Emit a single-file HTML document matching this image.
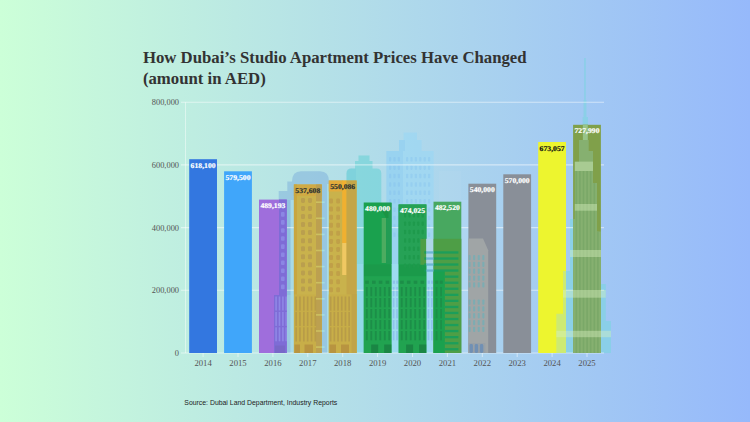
<!DOCTYPE html>
<html><head><meta charset="utf-8"><title>Dubai studio prices</title>
<style>
html,body{margin:0;padding:0}
body{width:750px;height:422px;overflow:hidden;background:linear-gradient(90deg,#ccffd8 0%,#96b9fb 100%);font-family:"Liberation Serif",serif}
svg{position:absolute;left:0;top:0}
.vl{text-rendering:geometricPrecision}
.t{font:bold 16.75px "Liberation Serif",serif;fill:#333}
.yl{font:8.4px "Liberation Serif",serif;fill:#555}
.xl{font:8.7px "Liberation Serif",serif;fill:#555}
.vl{font:bold 12px "Liberation Serif",serif}
.src{font:6.6px "Liberation Sans",sans-serif;fill:#222}
</style></head><body>
<svg width="750" height="422" viewBox="0 0 750 422">
<text x="142.9" y="63.3" class="t">How Dubai’s Studio Apartment Prices Have Changed</text>
<text x="142.9" y="83.6" class="t">(amount in AED)</text>
<line x1="185.5" x2="185.5" y1="102.2" y2="353.0" stroke="#fff" stroke-opacity=".45"/>
<g id="back">
<!-- Building A: domed, behind 2016/2017 -->
<path d="M274 353V295h4.7V191h8.6V181.5h4.7q0-10.3 9-10.3h19q9 0 9 10.3V353z" fill="#6a9ed8" fill-opacity=".38"/>
<rect x="290.5" y="200" width="3.6" height="153" fill="#b8f0f0" fill-opacity=".45"/>
<rect x="286.8" y="200" width="3.7" height="95" fill="#5a8ed8" fill-opacity=".15"/>
<rect x="327" y="184" width="2" height="169" fill="#b8f0f0" fill-opacity=".5"/>
<!-- teal tower between 2018 and 2019 -->
<path d="M346.5 353V173.5q0-5 5-5h3.5v-7.5h3.5v-5.5h11v5.5h3v7.5h3.8q5 0 5 5V264h-17.6V353z" fill="#5ccfd2" fill-opacity=".5"/>
<path d="M346.5 264V173.5q0-5 5-5h4.5v95.5z" fill="#5ab8d8" fill-opacity=".16"/>
<!-- tall blue tower behind 2020 -->
<path d="M386.4 353V151h12.6v-11h4.6v-7.6h13.4v7.6h4.6v11h12V353z" fill="#92d8f8" fill-opacity=".45"/>
<rect x="386.4" y="151" width="16.6" height="113" fill="#5aa8f0" fill-opacity=".13"/>
<rect x="399" y="140" width="6" height="11" fill="#5aa8f0" fill-opacity=".13"/>
<rect x="439" y="171" width="22" height="32" fill="#fff" fill-opacity=".04"/>
<!-- low wide building 2019-2021 -->
<rect x="357" y="264" width="76.5" height="89" fill="#9adcf0" fill-opacity=".55"/>
<!-- pale building right of 2021 -->
<rect x="461" y="200" width="7.5" height="153" fill="#b4d8f6" fill-opacity=".5"/>
<!-- Burj Khalifa -->
<path d="M584.2 58H585.8V100H586.4V117H588V140H588.7V151H593V183H597V231.5H601V284H605.8V321H611V353H556.3V313.8H563V271H570V219H574.8V161.6H579V140H582.7V117H583.6V100H584.2Z" fill="#74d8dc" fill-opacity=".5"/>
<rect x="406.0" y="157.0" width="2.2" height="4.5" rx=".8" fill="#5a9ee8" fill-opacity=".15"/><rect x="410.4" y="157.0" width="2.2" height="4.5" rx=".8" fill="#5a9ee8" fill-opacity=".15"/><rect x="414.8" y="157.0" width="2.2" height="4.5" rx=".8" fill="#5a9ee8" fill-opacity=".15"/><rect x="419.2" y="157.0" width="2.2" height="4.5" rx=".8" fill="#5a9ee8" fill-opacity=".15"/><rect x="423.6" y="157.0" width="2.2" height="4.5" rx=".8" fill="#5a9ee8" fill-opacity=".15"/><rect x="428.0" y="157.0" width="2.2" height="4.5" rx=".8" fill="#5a9ee8" fill-opacity=".15"/><rect x="389.0" y="157.0" width="2.2" height="4.5" rx=".8" fill="#5a9ee8" fill-opacity=".14"/><rect x="393.4" y="157.0" width="2.2" height="4.5" rx=".8" fill="#5a9ee8" fill-opacity=".14"/><rect x="397.8" y="157.0" width="2.2" height="4.5" rx=".8" fill="#5a9ee8" fill-opacity=".14"/><rect x="406.0" y="165.4" width="2.2" height="4.5" rx=".8" fill="#5a9ee8" fill-opacity=".15"/><rect x="410.4" y="165.4" width="2.2" height="4.5" rx=".8" fill="#5a9ee8" fill-opacity=".15"/><rect x="414.8" y="165.4" width="2.2" height="4.5" rx=".8" fill="#5a9ee8" fill-opacity=".15"/><rect x="419.2" y="165.4" width="2.2" height="4.5" rx=".8" fill="#5a9ee8" fill-opacity=".15"/><rect x="423.6" y="165.4" width="2.2" height="4.5" rx=".8" fill="#5a9ee8" fill-opacity=".15"/><rect x="428.0" y="165.4" width="2.2" height="4.5" rx=".8" fill="#5a9ee8" fill-opacity=".15"/><rect x="389.0" y="165.4" width="2.2" height="4.5" rx=".8" fill="#5a9ee8" fill-opacity=".14"/><rect x="393.4" y="165.4" width="2.2" height="4.5" rx=".8" fill="#5a9ee8" fill-opacity=".14"/><rect x="397.8" y="165.4" width="2.2" height="4.5" rx=".8" fill="#5a9ee8" fill-opacity=".14"/><rect x="406.0" y="173.8" width="2.2" height="4.5" rx=".8" fill="#5a9ee8" fill-opacity=".15"/><rect x="410.4" y="173.8" width="2.2" height="4.5" rx=".8" fill="#5a9ee8" fill-opacity=".15"/><rect x="414.8" y="173.8" width="2.2" height="4.5" rx=".8" fill="#5a9ee8" fill-opacity=".15"/><rect x="419.2" y="173.8" width="2.2" height="4.5" rx=".8" fill="#5a9ee8" fill-opacity=".15"/><rect x="423.6" y="173.8" width="2.2" height="4.5" rx=".8" fill="#5a9ee8" fill-opacity=".15"/><rect x="428.0" y="173.8" width="2.2" height="4.5" rx=".8" fill="#5a9ee8" fill-opacity=".15"/><rect x="389.0" y="173.8" width="2.2" height="4.5" rx=".8" fill="#5a9ee8" fill-opacity=".14"/><rect x="393.4" y="173.8" width="2.2" height="4.5" rx=".8" fill="#5a9ee8" fill-opacity=".14"/><rect x="397.8" y="173.8" width="2.2" height="4.5" rx=".8" fill="#5a9ee8" fill-opacity=".14"/><rect x="406.0" y="182.2" width="2.2" height="4.5" rx=".8" fill="#5a9ee8" fill-opacity=".15"/><rect x="410.4" y="182.2" width="2.2" height="4.5" rx=".8" fill="#5a9ee8" fill-opacity=".15"/><rect x="414.8" y="182.2" width="2.2" height="4.5" rx=".8" fill="#5a9ee8" fill-opacity=".15"/><rect x="419.2" y="182.2" width="2.2" height="4.5" rx=".8" fill="#5a9ee8" fill-opacity=".15"/><rect x="423.6" y="182.2" width="2.2" height="4.5" rx=".8" fill="#5a9ee8" fill-opacity=".15"/><rect x="428.0" y="182.2" width="2.2" height="4.5" rx=".8" fill="#5a9ee8" fill-opacity=".15"/><rect x="389.0" y="182.2" width="2.2" height="4.5" rx=".8" fill="#5a9ee8" fill-opacity=".14"/><rect x="393.4" y="182.2" width="2.2" height="4.5" rx=".8" fill="#5a9ee8" fill-opacity=".14"/><rect x="397.8" y="182.2" width="2.2" height="4.5" rx=".8" fill="#5a9ee8" fill-opacity=".14"/><rect x="406.0" y="190.6" width="2.2" height="4.5" rx=".8" fill="#5a9ee8" fill-opacity=".15"/><rect x="410.4" y="190.6" width="2.2" height="4.5" rx=".8" fill="#5a9ee8" fill-opacity=".15"/><rect x="414.8" y="190.6" width="2.2" height="4.5" rx=".8" fill="#5a9ee8" fill-opacity=".15"/><rect x="419.2" y="190.6" width="2.2" height="4.5" rx=".8" fill="#5a9ee8" fill-opacity=".15"/><rect x="423.6" y="190.6" width="2.2" height="4.5" rx=".8" fill="#5a9ee8" fill-opacity=".15"/><rect x="428.0" y="190.6" width="2.2" height="4.5" rx=".8" fill="#5a9ee8" fill-opacity=".15"/><rect x="389.0" y="190.6" width="2.2" height="4.5" rx=".8" fill="#5a9ee8" fill-opacity=".14"/><rect x="393.4" y="190.6" width="2.2" height="4.5" rx=".8" fill="#5a9ee8" fill-opacity=".14"/><rect x="397.8" y="190.6" width="2.2" height="4.5" rx=".8" fill="#5a9ee8" fill-opacity=".14"/><rect x="406.0" y="199.0" width="2.2" height="4.5" rx=".8" fill="#5a9ee8" fill-opacity=".15"/><rect x="410.4" y="199.0" width="2.2" height="4.5" rx=".8" fill="#5a9ee8" fill-opacity=".15"/><rect x="414.8" y="199.0" width="2.2" height="4.5" rx=".8" fill="#5a9ee8" fill-opacity=".15"/><rect x="419.2" y="199.0" width="2.2" height="4.5" rx=".8" fill="#5a9ee8" fill-opacity=".15"/><rect x="423.6" y="199.0" width="2.2" height="4.5" rx=".8" fill="#5a9ee8" fill-opacity=".15"/><rect x="428.0" y="199.0" width="2.2" height="4.5" rx=".8" fill="#5a9ee8" fill-opacity=".15"/><rect x="389.0" y="199.0" width="2.2" height="4.5" rx=".8" fill="#5a9ee8" fill-opacity=".14"/><rect x="393.4" y="199.0" width="2.2" height="4.5" rx=".8" fill="#5a9ee8" fill-opacity=".14"/><rect x="397.8" y="199.0" width="2.2" height="4.5" rx=".8" fill="#5a9ee8" fill-opacity=".14"/><rect x="406.0" y="207.4" width="2.2" height="4.5" rx=".8" fill="#5a9ee8" fill-opacity=".15"/><rect x="410.4" y="207.4" width="2.2" height="4.5" rx=".8" fill="#5a9ee8" fill-opacity=".15"/><rect x="414.8" y="207.4" width="2.2" height="4.5" rx=".8" fill="#5a9ee8" fill-opacity=".15"/><rect x="419.2" y="207.4" width="2.2" height="4.5" rx=".8" fill="#5a9ee8" fill-opacity=".15"/><rect x="423.6" y="207.4" width="2.2" height="4.5" rx=".8" fill="#5a9ee8" fill-opacity=".15"/><rect x="428.0" y="207.4" width="2.2" height="4.5" rx=".8" fill="#5a9ee8" fill-opacity=".15"/><rect x="389.0" y="207.4" width="2.2" height="4.5" rx=".8" fill="#5a9ee8" fill-opacity=".14"/><rect x="393.4" y="207.4" width="2.2" height="4.5" rx=".8" fill="#5a9ee8" fill-opacity=".14"/><rect x="397.8" y="207.4" width="2.2" height="4.5" rx=".8" fill="#5a9ee8" fill-opacity=".14"/><rect x="406.0" y="215.8" width="2.2" height="4.5" rx=".8" fill="#5a9ee8" fill-opacity=".15"/><rect x="410.4" y="215.8" width="2.2" height="4.5" rx=".8" fill="#5a9ee8" fill-opacity=".15"/><rect x="414.8" y="215.8" width="2.2" height="4.5" rx=".8" fill="#5a9ee8" fill-opacity=".15"/><rect x="419.2" y="215.8" width="2.2" height="4.5" rx=".8" fill="#5a9ee8" fill-opacity=".15"/><rect x="423.6" y="215.8" width="2.2" height="4.5" rx=".8" fill="#5a9ee8" fill-opacity=".15"/><rect x="428.0" y="215.8" width="2.2" height="4.5" rx=".8" fill="#5a9ee8" fill-opacity=".15"/><rect x="389.0" y="215.8" width="2.2" height="4.5" rx=".8" fill="#5a9ee8" fill-opacity=".14"/><rect x="393.4" y="215.8" width="2.2" height="4.5" rx=".8" fill="#5a9ee8" fill-opacity=".14"/><rect x="397.8" y="215.8" width="2.2" height="4.5" rx=".8" fill="#5a9ee8" fill-opacity=".14"/><rect x="406.0" y="224.2" width="2.2" height="4.5" rx=".8" fill="#5a9ee8" fill-opacity=".15"/><rect x="410.4" y="224.2" width="2.2" height="4.5" rx=".8" fill="#5a9ee8" fill-opacity=".15"/><rect x="414.8" y="224.2" width="2.2" height="4.5" rx=".8" fill="#5a9ee8" fill-opacity=".15"/><rect x="419.2" y="224.2" width="2.2" height="4.5" rx=".8" fill="#5a9ee8" fill-opacity=".15"/><rect x="423.6" y="224.2" width="2.2" height="4.5" rx=".8" fill="#5a9ee8" fill-opacity=".15"/><rect x="428.0" y="224.2" width="2.2" height="4.5" rx=".8" fill="#5a9ee8" fill-opacity=".15"/><rect x="389.0" y="224.2" width="2.2" height="4.5" rx=".8" fill="#5a9ee8" fill-opacity=".14"/><rect x="393.4" y="224.2" width="2.2" height="4.5" rx=".8" fill="#5a9ee8" fill-opacity=".14"/><rect x="397.8" y="224.2" width="2.2" height="4.5" rx=".8" fill="#5a9ee8" fill-opacity=".14"/><rect x="406.0" y="232.6" width="2.2" height="4.5" rx=".8" fill="#5a9ee8" fill-opacity=".15"/><rect x="410.4" y="232.6" width="2.2" height="4.5" rx=".8" fill="#5a9ee8" fill-opacity=".15"/><rect x="414.8" y="232.6" width="2.2" height="4.5" rx=".8" fill="#5a9ee8" fill-opacity=".15"/><rect x="419.2" y="232.6" width="2.2" height="4.5" rx=".8" fill="#5a9ee8" fill-opacity=".15"/><rect x="423.6" y="232.6" width="2.2" height="4.5" rx=".8" fill="#5a9ee8" fill-opacity=".15"/><rect x="428.0" y="232.6" width="2.2" height="4.5" rx=".8" fill="#5a9ee8" fill-opacity=".15"/><rect x="389.0" y="232.6" width="2.2" height="4.5" rx=".8" fill="#5a9ee8" fill-opacity=".14"/><rect x="393.4" y="232.6" width="2.2" height="4.5" rx=".8" fill="#5a9ee8" fill-opacity=".14"/><rect x="397.8" y="232.6" width="2.2" height="4.5" rx=".8" fill="#5a9ee8" fill-opacity=".14"/>
<rect x="392.8" y="280.6" width="2.2" height="3.2" fill="#7aa4e6" fill-opacity=".45"/><rect x="392.8" y="287.0" width="1.6" height="9.3" fill="#7aa4e6" fill-opacity=".45"/><rect x="392.8" y="298.0" width="1.6" height="9.3" fill="#7aa4e6" fill-opacity=".45"/><rect x="392.8" y="309.0" width="1.6" height="9.3" fill="#7aa4e6" fill-opacity=".45"/><rect x="392.8" y="320.0" width="1.6" height="9.3" fill="#7aa4e6" fill-opacity=".45"/><rect x="392.8" y="331.0" width="1.6" height="9.3" fill="#7aa4e6" fill-opacity=".45"/><rect x="396.2" y="280.6" width="2.2" height="3.2" fill="#7aa4e6" fill-opacity=".45"/><rect x="396.2" y="287.0" width="1.6" height="9.3" fill="#7aa4e6" fill-opacity=".45"/><rect x="396.2" y="298.0" width="1.6" height="9.3" fill="#7aa4e6" fill-opacity=".45"/><rect x="396.2" y="309.0" width="1.6" height="9.3" fill="#7aa4e6" fill-opacity=".45"/><rect x="396.2" y="320.0" width="1.6" height="9.3" fill="#7aa4e6" fill-opacity=".45"/><rect x="396.2" y="331.0" width="1.6" height="9.3" fill="#7aa4e6" fill-opacity=".45"/><rect x="427.7" y="280.6" width="2.2" height="3.2" fill="#7aa4e6" fill-opacity=".45"/><rect x="427.7" y="287.0" width="1.6" height="9.3" fill="#7aa4e6" fill-opacity=".45"/><rect x="427.7" y="298.0" width="1.6" height="9.3" fill="#7aa4e6" fill-opacity=".45"/><rect x="427.7" y="309.0" width="1.6" height="9.3" fill="#7aa4e6" fill-opacity=".45"/><rect x="427.7" y="320.0" width="1.6" height="9.3" fill="#7aa4e6" fill-opacity=".45"/><rect x="427.7" y="331.0" width="1.6" height="9.3" fill="#7aa4e6" fill-opacity=".45"/><rect x="431.1" y="280.6" width="2.2" height="3.2" fill="#7aa4e6" fill-opacity=".45"/><rect x="431.1" y="287.0" width="1.6" height="9.3" fill="#7aa4e6" fill-opacity=".45"/><rect x="431.1" y="298.0" width="1.6" height="9.3" fill="#7aa4e6" fill-opacity=".45"/><rect x="431.1" y="309.0" width="1.6" height="9.3" fill="#7aa4e6" fill-opacity=".45"/><rect x="431.1" y="320.0" width="1.6" height="9.3" fill="#7aa4e6" fill-opacity=".45"/><rect x="431.1" y="331.0" width="1.6" height="9.3" fill="#7aa4e6" fill-opacity=".45"/>
</g>
<line x1="181" x2="604" y1="353.0" y2="353.0" stroke="#fff" stroke-opacity=".5" stroke-width="1.1"/>
<text x="179" y="355.9" text-anchor="end" class="yl">0</text>
<line x1="181" x2="604" y1="290.3" y2="290.3" stroke="#fff" stroke-opacity=".5" stroke-width="1.1"/>
<text x="179" y="293.2" text-anchor="end" class="yl">200,000</text>
<line x1="181" x2="604" y1="227.6" y2="227.6" stroke="#fff" stroke-opacity=".5" stroke-width="1.1"/>
<text x="179" y="230.5" text-anchor="end" class="yl">400,000</text>
<line x1="181" x2="604" y1="164.9" y2="164.9" stroke="#fff" stroke-opacity=".5" stroke-width="1.1"/>
<text x="179" y="167.8" text-anchor="end" class="yl">600,000</text>
<line x1="181" x2="604" y1="102.2" y2="102.2" stroke="#fff" stroke-opacity=".5" stroke-width="1.1"/>
<text x="179" y="105.1" text-anchor="end" class="yl">800,000</text>

<g id="bars">
<rect x="189.2" y="159.2" width="27.8" height="193.8" fill="#3377e0"/>
<rect x="224.1" y="171.3" width="27.8" height="181.7" fill="#40a6fa"/>
<rect x="259.0" y="199.6" width="27.8" height="153.4" fill="#9f6edc"/>
<rect x="293.9" y="184.5" width="27.8" height="168.5" fill="#c9b24c"/>
<rect x="328.8" y="180.5" width="27.8" height="172.5" fill="#c9b24c"/>
<rect x="363.7" y="202.5" width="27.8" height="150.5" fill="#1aa14e"/>
<rect x="398.6" y="204.4" width="27.8" height="148.6" fill="#1aa14e"/>
<rect x="433.5" y="201.7" width="27.8" height="151.3" fill="#48a860"/>
<rect x="468.4" y="183.7" width="27.8" height="169.3" fill="#898f98"/>
<rect x="503.3" y="174.3" width="27.8" height="178.7" fill="#898f98"/>
<rect x="538.2" y="142.0" width="27.8" height="211.0" fill="#edf52f"/>
<rect x="573.1" y="124.8" width="27.8" height="228.2" fill="#80a04a"/>
</g>
<g id="front">
<defs><clipPath id="c0"><rect x="189.2" y="159.2" width="27.8" height="193.8"/></clipPath><clipPath id="c1"><rect x="224.1" y="171.3" width="27.8" height="181.7"/></clipPath><clipPath id="c2"><rect x="259.0" y="199.6" width="27.8" height="153.4"/></clipPath><clipPath id="c3"><rect x="293.9" y="184.5" width="27.8" height="168.5"/></clipPath><clipPath id="c4"><rect x="328.8" y="180.5" width="27.8" height="172.5"/></clipPath><clipPath id="c5"><rect x="363.7" y="202.5" width="27.8" height="150.5"/></clipPath><clipPath id="c6"><rect x="398.6" y="204.4" width="27.8" height="148.6"/></clipPath><clipPath id="c7"><rect x="433.5" y="201.7" width="27.8" height="151.3"/></clipPath><clipPath id="c8"><rect x="468.4" y="183.7" width="27.8" height="169.3"/></clipPath><clipPath id="c9"><rect x="503.3" y="174.3" width="27.8" height="178.7"/></clipPath><clipPath id="c10"><rect x="538.2" y="142.0" width="27.8" height="211.0"/></clipPath><clipPath id="c11"><rect x="573.1" y="124.8" width="27.8" height="228.2"/></clipPath><clipPath id="cb"><path d="M584.2 58H585.8V100H586.4V117H588V140H588.7V151H593V183H597V231.5H601V284H605.8V321H611V353H556.3V313.8H563V271H570V219H574.8V161.6H579V140H582.7V117H583.6V100H584.2Z"/></clipPath></defs>
<g clip-path="url(#c2)"><rect x="279" y="190" width="10" height="170" fill="#7e6cd6"/><rect x="274" y="295" width="6" height="60" fill="#7e6cd6"/><rect x="281" y="204.0" width="3.6" height="4.6" rx="1" fill="#8c86e4"/><rect x="281" y="212.1" width="3.6" height="4.6" rx="1" fill="#8c86e4"/><rect x="281" y="220.1" width="3.6" height="4.6" rx="1" fill="#8c86e4"/><rect x="281" y="228.2" width="3.6" height="4.6" rx="1" fill="#8c86e4"/><rect x="281" y="236.2" width="3.6" height="4.6" rx="1" fill="#8c86e4"/><rect x="281" y="244.3" width="3.6" height="4.6" rx="1" fill="#8c86e4"/><rect x="281" y="252.4" width="3.6" height="4.6" rx="1" fill="#8c86e4"/><rect x="281" y="260.4" width="3.6" height="4.6" rx="1" fill="#8c86e4"/><rect x="281" y="268.5" width="3.6" height="4.6" rx="1" fill="#8c86e4"/><rect x="281" y="276.5" width="3.6" height="4.6" rx="1" fill="#8c86e4"/><rect x="281" y="284.6" width="3.6" height="4.6" rx="1" fill="#8c86e4"/><rect x="275.3" y="296.5" width="1.6" height="14" fill="#9088e6"/><rect x="278.7" y="296.5" width="1.6" height="14" fill="#9088e6"/><rect x="282.1" y="296.5" width="1.6" height="14" fill="#9088e6"/><rect x="285.5" y="296.5" width="1.6" height="14" fill="#9088e6"/><rect x="275.3" y="311.9" width="1.6" height="14" fill="#9088e6"/><rect x="278.7" y="311.9" width="1.6" height="14" fill="#9088e6"/><rect x="282.1" y="311.9" width="1.6" height="14" fill="#9088e6"/><rect x="285.5" y="311.9" width="1.6" height="14" fill="#9088e6"/><rect x="275.3" y="327.3" width="1.6" height="14" fill="#9088e6"/><rect x="278.7" y="327.3" width="1.6" height="14" fill="#9088e6"/><rect x="282.1" y="327.3" width="1.6" height="14" fill="#9088e6"/><rect x="285.5" y="327.3" width="1.6" height="14" fill="#9088e6"/><rect x="275" y="345.5" width="10" height="7.5" fill="#7868c8"/></g>
<g clip-path="url(#c3)"><rect x="293" y="294.5" width="30" height="60" fill="#c8ae48"/><rect x="293" y="180" width="30" height="16" fill="#d0aa44"/><rect x="293" y="180" width="4" height="114.5" fill="#c8a640"/><rect x="316" y="180" width="7" height="175" fill="#bca050"/><rect x="301" y="197.9" width="4" height="5" rx="1.3" fill="#ba9f4e"/><rect x="308" y="197.9" width="4" height="5" rx="1.3" fill="#ba9f4e"/><rect x="301" y="205.9" width="4" height="5" rx="1.3" fill="#ba9f4e"/><rect x="308" y="205.9" width="4" height="5" rx="1.3" fill="#ba9f4e"/><rect x="301" y="214.0" width="4" height="5" rx="1.3" fill="#ba9f4e"/><rect x="308" y="214.0" width="4" height="5" rx="1.3" fill="#ba9f4e"/><rect x="301" y="222.0" width="4" height="5" rx="1.3" fill="#ba9f4e"/><rect x="308" y="222.0" width="4" height="5" rx="1.3" fill="#ba9f4e"/><rect x="301" y="230.1" width="4" height="5" rx="1.3" fill="#ba9f4e"/><rect x="308" y="230.1" width="4" height="5" rx="1.3" fill="#ba9f4e"/><rect x="301" y="238.2" width="4" height="5" rx="1.3" fill="#ba9f4e"/><rect x="308" y="238.2" width="4" height="5" rx="1.3" fill="#ba9f4e"/><rect x="301" y="246.2" width="4" height="5" rx="1.3" fill="#ba9f4e"/><rect x="308" y="246.2" width="4" height="5" rx="1.3" fill="#ba9f4e"/><rect x="301" y="254.3" width="4" height="5" rx="1.3" fill="#ba9f4e"/><rect x="308" y="254.3" width="4" height="5" rx="1.3" fill="#ba9f4e"/><rect x="301" y="262.3" width="4" height="5" rx="1.3" fill="#ba9f4e"/><rect x="308" y="262.3" width="4" height="5" rx="1.3" fill="#ba9f4e"/><rect x="301" y="270.4" width="4" height="5" rx="1.3" fill="#ba9f4e"/><rect x="308" y="270.4" width="4" height="5" rx="1.3" fill="#ba9f4e"/><rect x="301" y="278.5" width="4" height="5" rx="1.3" fill="#ba9f4e"/><rect x="308" y="278.5" width="4" height="5" rx="1.3" fill="#ba9f4e"/><rect x="301" y="286.5" width="4" height="5" rx="1.3" fill="#ba9f4e"/><rect x="308" y="286.5" width="4" height="5" rx="1.3" fill="#ba9f4e"/><rect x="295.3" y="296.5" width="1.7" height="14.2" fill="#b89c48"/><rect x="299.1" y="296.5" width="1.7" height="14.2" fill="#b89c48"/><rect x="303.0" y="296.5" width="1.7" height="14.2" fill="#b89c48"/><rect x="306.8" y="296.5" width="1.7" height="14.2" fill="#b89c48"/><rect x="310.7" y="296.5" width="1.7" height="14.2" fill="#b89c48"/><rect x="314.5" y="296.5" width="1.7" height="14.2" fill="#b89c48"/><rect x="295.3" y="311.9" width="1.7" height="14.2" fill="#b89c48"/><rect x="299.1" y="311.9" width="1.7" height="14.2" fill="#b89c48"/><rect x="303.0" y="311.9" width="1.7" height="14.2" fill="#b89c48"/><rect x="306.8" y="311.9" width="1.7" height="14.2" fill="#b89c48"/><rect x="310.7" y="311.9" width="1.7" height="14.2" fill="#b89c48"/><rect x="314.5" y="311.9" width="1.7" height="14.2" fill="#b89c48"/><rect x="295.3" y="327.3" width="1.7" height="14.2" fill="#b89c48"/><rect x="299.1" y="327.3" width="1.7" height="14.2" fill="#b89c48"/><rect x="303.0" y="327.3" width="1.7" height="14.2" fill="#b89c48"/><rect x="306.8" y="327.3" width="1.7" height="14.2" fill="#b89c48"/><rect x="310.7" y="327.3" width="1.7" height="14.2" fill="#b89c48"/><rect x="314.5" y="327.3" width="1.7" height="14.2" fill="#b89c48"/><rect x="294.5" y="344.5" width="5.5" height="8.5" fill="#b89440"/><rect x="304.5" y="344.5" width="8.5" height="8.5" fill="#b89440"/></g>
<rect x="316" y="201.4" width="5.7" height="1.6" fill="#ccc060"/><rect x="321.7" y="201.4" width="2.9" height="1.6" fill="#a8e4e0" fill-opacity=".75"/><rect x="316" y="217.5" width="5.7" height="1.6" fill="#ccc060"/><rect x="321.7" y="217.5" width="2.9" height="1.6" fill="#a8e4e0" fill-opacity=".75"/><rect x="316" y="233.6" width="5.7" height="1.6" fill="#ccc060"/><rect x="321.7" y="233.6" width="2.9" height="1.6" fill="#a8e4e0" fill-opacity=".75"/><rect x="316" y="249.7" width="5.7" height="1.6" fill="#ccc060"/><rect x="321.7" y="249.7" width="2.9" height="1.6" fill="#a8e4e0" fill-opacity=".75"/><rect x="316" y="265.8" width="5.7" height="1.6" fill="#ccc060"/><rect x="321.7" y="265.8" width="2.9" height="1.6" fill="#a8e4e0" fill-opacity=".75"/><rect x="316" y="281.9" width="5.7" height="1.6" fill="#ccc060"/><rect x="321.7" y="281.9" width="2.9" height="1.6" fill="#a8e4e0" fill-opacity=".75"/><rect x="316" y="298.0" width="5.7" height="1.6" fill="#ccc060"/><rect x="321.7" y="298.0" width="2.9" height="1.6" fill="#a8e4e0" fill-opacity=".75"/><rect x="316" y="314.1" width="5.7" height="1.6" fill="#ccc060"/><rect x="321.7" y="314.1" width="2.9" height="1.6" fill="#a8e4e0" fill-opacity=".75"/><rect x="316" y="330.2" width="5.7" height="1.6" fill="#ccc060"/><rect x="321.7" y="330.2" width="2.9" height="1.6" fill="#a8e4e0" fill-opacity=".75"/><rect x="316" y="346.3" width="5.7" height="1.6" fill="#ccc060"/><rect x="321.7" y="346.3" width="2.9" height="1.6" fill="#a8e4e0" fill-opacity=".75"/>
<g clip-path="url(#c4)"><rect x="328" y="170" width="15" height="21.5" fill="#e2ac3c"/><rect x="342.2" y="170" width="4.5" height="73" fill="#f0b030"/><rect x="342.2" y="243" width="4.5" height="32" fill="#f0c862"/><rect x="328" y="294.5" width="30" height="60" fill="#c8ae48"/><rect x="346.5" y="170" width="12" height="124.5" fill="#c4a648"/><rect x="351.6" y="294" width="6" height="60" fill="#c0a448"/><rect x="329.2" y="198.6" width="3.8" height="5" rx="1.3" fill="#c0a048"/><rect x="336.2" y="198.6" width="3.8" height="5" rx="1.3" fill="#c0a048"/><rect x="329.2" y="206.6" width="3.8" height="5" rx="1.3" fill="#c0a048"/><rect x="336.2" y="206.6" width="3.8" height="5" rx="1.3" fill="#c0a048"/><rect x="329.2" y="214.7" width="3.8" height="5" rx="1.3" fill="#c0a048"/><rect x="336.2" y="214.7" width="3.8" height="5" rx="1.3" fill="#c0a048"/><rect x="329.2" y="222.7" width="3.8" height="5" rx="1.3" fill="#c0a048"/><rect x="336.2" y="222.7" width="3.8" height="5" rx="1.3" fill="#c0a048"/><rect x="329.2" y="230.8" width="3.8" height="5" rx="1.3" fill="#c0a048"/><rect x="336.2" y="230.8" width="3.8" height="5" rx="1.3" fill="#c0a048"/><rect x="329.2" y="238.9" width="3.8" height="5" rx="1.3" fill="#c0a048"/><rect x="336.2" y="238.9" width="3.8" height="5" rx="1.3" fill="#c0a048"/><rect x="329.2" y="246.9" width="3.8" height="5" rx="1.3" fill="#c0a048"/><rect x="336.2" y="246.9" width="3.8" height="5" rx="1.3" fill="#c0a048"/><rect x="329.2" y="255.0" width="3.8" height="5" rx="1.3" fill="#c0a048"/><rect x="336.2" y="255.0" width="3.8" height="5" rx="1.3" fill="#c0a048"/><rect x="329.2" y="263.0" width="3.8" height="5" rx="1.3" fill="#c0a048"/><rect x="336.2" y="263.0" width="3.8" height="5" rx="1.3" fill="#c0a048"/><rect x="329.2" y="271.1" width="3.8" height="5" rx="1.3" fill="#c0a048"/><rect x="336.2" y="271.1" width="3.8" height="5" rx="1.3" fill="#c0a048"/><rect x="329.2" y="279.2" width="3.8" height="5" rx="1.3" fill="#c0a048"/><rect x="336.2" y="279.2" width="3.8" height="5" rx="1.3" fill="#c0a048"/><rect x="329.2" y="287.2" width="3.8" height="5" rx="1.3" fill="#c0a048"/><rect x="336.2" y="287.2" width="3.8" height="5" rx="1.3" fill="#c0a048"/><rect x="329.8" y="296.5" width="1.7" height="14.2" fill="#b89c48"/><rect x="333.5" y="296.5" width="1.7" height="14.2" fill="#b89c48"/><rect x="337.2" y="296.5" width="1.7" height="14.2" fill="#b89c48"/><rect x="340.9" y="296.5" width="1.7" height="14.2" fill="#b89c48"/><rect x="344.6" y="296.5" width="1.7" height="14.2" fill="#b89c48"/><rect x="348.3" y="296.5" width="1.7" height="14.2" fill="#b89c48"/><rect x="329.8" y="311.9" width="1.7" height="14.2" fill="#b89c48"/><rect x="333.5" y="311.9" width="1.7" height="14.2" fill="#b89c48"/><rect x="337.2" y="311.9" width="1.7" height="14.2" fill="#b89c48"/><rect x="340.9" y="311.9" width="1.7" height="14.2" fill="#b89c48"/><rect x="344.6" y="311.9" width="1.7" height="14.2" fill="#b89c48"/><rect x="348.3" y="311.9" width="1.7" height="14.2" fill="#b89c48"/><rect x="329.8" y="327.3" width="1.7" height="14.2" fill="#b89c48"/><rect x="333.5" y="327.3" width="1.7" height="14.2" fill="#b89c48"/><rect x="337.2" y="327.3" width="1.7" height="14.2" fill="#b89c48"/><rect x="340.9" y="327.3" width="1.7" height="14.2" fill="#b89c48"/><rect x="344.6" y="327.3" width="1.7" height="14.2" fill="#b89c48"/><rect x="348.3" y="327.3" width="1.7" height="14.2" fill="#b89c48"/><rect x="329.5" y="344.5" width="6.5" height="8.5" fill="#b89440"/><rect x="341" y="344.5" width="8" height="8.5" fill="#b89440"/></g>
<g clip-path="url(#c5)"><rect x="381.7" y="218" width="4.4" height="45" fill="#4cac60"/><rect x="386.1" y="203" width="6" height="61" fill="#229c54"/><path d="M381 209h7.5v9h-2.4z" fill="#1c9444"/><rect x="363.7" y="264.4" width="27.8" height="11.8" fill="#1b9a4a"/><rect x="363.7" y="276.2" width="27.8" height="77" fill="#21a350"/><rect x="365.2" y="280.6" width="3.6" height="3.2" fill="#1c8e48"/><rect x="372.0" y="280.6" width="3.6" height="3.2" fill="#1c8e48"/><rect x="378.8" y="280.6" width="3.6" height="3.2" fill="#1c8e48"/><rect x="385.6" y="280.6" width="3.6" height="3.2" fill="#1c8e48"/><rect x="365.9" y="287.0" width="1.8" height="9.3" fill="#1c8e48"/><rect x="370.4" y="287.0" width="1.8" height="9.3" fill="#1c8e48"/><rect x="374.9" y="287.0" width="1.8" height="9.3" fill="#1c8e48"/><rect x="379.4" y="287.0" width="1.8" height="9.3" fill="#1c8e48"/><rect x="383.9" y="287.0" width="1.8" height="9.3" fill="#1c8e48"/><rect x="388.4" y="287.0" width="1.8" height="9.3" fill="#1c8e48"/><rect x="365.9" y="298.0" width="1.8" height="9.3" fill="#1c8e48"/><rect x="370.4" y="298.0" width="1.8" height="9.3" fill="#1c8e48"/><rect x="374.9" y="298.0" width="1.8" height="9.3" fill="#1c8e48"/><rect x="379.4" y="298.0" width="1.8" height="9.3" fill="#1c8e48"/><rect x="383.9" y="298.0" width="1.8" height="9.3" fill="#1c8e48"/><rect x="388.4" y="298.0" width="1.8" height="9.3" fill="#1c8e48"/><rect x="365.9" y="309.0" width="1.8" height="9.3" fill="#1c8e48"/><rect x="370.4" y="309.0" width="1.8" height="9.3" fill="#1c8e48"/><rect x="374.9" y="309.0" width="1.8" height="9.3" fill="#1c8e48"/><rect x="379.4" y="309.0" width="1.8" height="9.3" fill="#1c8e48"/><rect x="383.9" y="309.0" width="1.8" height="9.3" fill="#1c8e48"/><rect x="388.4" y="309.0" width="1.8" height="9.3" fill="#1c8e48"/><rect x="365.9" y="320.0" width="1.8" height="9.3" fill="#1c8e48"/><rect x="370.4" y="320.0" width="1.8" height="9.3" fill="#1c8e48"/><rect x="374.9" y="320.0" width="1.8" height="9.3" fill="#1c8e48"/><rect x="379.4" y="320.0" width="1.8" height="9.3" fill="#1c8e48"/><rect x="383.9" y="320.0" width="1.8" height="9.3" fill="#1c8e48"/><rect x="388.4" y="320.0" width="1.8" height="9.3" fill="#1c8e48"/><rect x="365.9" y="331.0" width="1.8" height="9.3" fill="#1c8e48"/><rect x="370.4" y="331.0" width="1.8" height="9.3" fill="#1c8e48"/><rect x="374.9" y="331.0" width="1.8" height="9.3" fill="#1c8e48"/><rect x="379.4" y="331.0" width="1.8" height="9.3" fill="#1c8e48"/><rect x="383.9" y="331.0" width="1.8" height="9.3" fill="#1c8e48"/><rect x="388.4" y="331.0" width="1.8" height="9.3" fill="#1c8e48"/><rect x="371.2" y="344.5" width="7" height="8.5" fill="#1a8644"/><rect x="384.2" y="344.5" width="7.3" height="8.5" fill="#1a8644"/></g>
<g clip-path="url(#c6)"><rect x="398.6" y="264.4" width="27.8" height="11.8" fill="#1b9a4a"/><rect x="398.6" y="276.2" width="27.8" height="77" fill="#21a350"/><rect x="400.1" y="280.6" width="3.6" height="3.2" fill="#1c8e48"/><rect x="406.9" y="280.6" width="3.6" height="3.2" fill="#1c8e48"/><rect x="413.7" y="280.6" width="3.6" height="3.2" fill="#1c8e48"/><rect x="420.5" y="280.6" width="3.6" height="3.2" fill="#1c8e48"/><rect x="400.8" y="287.0" width="1.8" height="9.3" fill="#1c8e48"/><rect x="405.3" y="287.0" width="1.8" height="9.3" fill="#1c8e48"/><rect x="409.8" y="287.0" width="1.8" height="9.3" fill="#1c8e48"/><rect x="414.3" y="287.0" width="1.8" height="9.3" fill="#1c8e48"/><rect x="418.8" y="287.0" width="1.8" height="9.3" fill="#1c8e48"/><rect x="423.3" y="287.0" width="1.8" height="9.3" fill="#1c8e48"/><rect x="400.8" y="298.0" width="1.8" height="9.3" fill="#1c8e48"/><rect x="405.3" y="298.0" width="1.8" height="9.3" fill="#1c8e48"/><rect x="409.8" y="298.0" width="1.8" height="9.3" fill="#1c8e48"/><rect x="414.3" y="298.0" width="1.8" height="9.3" fill="#1c8e48"/><rect x="418.8" y="298.0" width="1.8" height="9.3" fill="#1c8e48"/><rect x="423.3" y="298.0" width="1.8" height="9.3" fill="#1c8e48"/><rect x="400.8" y="309.0" width="1.8" height="9.3" fill="#1c8e48"/><rect x="405.3" y="309.0" width="1.8" height="9.3" fill="#1c8e48"/><rect x="409.8" y="309.0" width="1.8" height="9.3" fill="#1c8e48"/><rect x="414.3" y="309.0" width="1.8" height="9.3" fill="#1c8e48"/><rect x="418.8" y="309.0" width="1.8" height="9.3" fill="#1c8e48"/><rect x="423.3" y="309.0" width="1.8" height="9.3" fill="#1c8e48"/><rect x="400.8" y="320.0" width="1.8" height="9.3" fill="#1c8e48"/><rect x="405.3" y="320.0" width="1.8" height="9.3" fill="#1c8e48"/><rect x="409.8" y="320.0" width="1.8" height="9.3" fill="#1c8e48"/><rect x="414.3" y="320.0" width="1.8" height="9.3" fill="#1c8e48"/><rect x="418.8" y="320.0" width="1.8" height="9.3" fill="#1c8e48"/><rect x="423.3" y="320.0" width="1.8" height="9.3" fill="#1c8e48"/><rect x="400.8" y="331.0" width="1.8" height="9.3" fill="#1c8e48"/><rect x="405.3" y="331.0" width="1.8" height="9.3" fill="#1c8e48"/><rect x="409.8" y="331.0" width="1.8" height="9.3" fill="#1c8e48"/><rect x="414.3" y="331.0" width="1.8" height="9.3" fill="#1c8e48"/><rect x="418.8" y="331.0" width="1.8" height="9.3" fill="#1c8e48"/><rect x="423.3" y="331.0" width="1.8" height="9.3" fill="#1c8e48"/><rect x="406.1" y="344.5" width="7" height="8.5" fill="#1a8644"/><rect x="419.1" y="344.5" width="7.3" height="8.5" fill="#1a8644"/><rect x="398" y="200" width="30" height="64.4" fill="#26a256"/><rect x="404.0" y="213.0" width="2.2" height="4.5" rx=".8" fill="#1e9a4c"/><rect x="408.4" y="213.0" width="2.2" height="4.5" rx=".8" fill="#1e9a4c"/><rect x="412.8" y="213.0" width="2.2" height="4.5" rx=".8" fill="#1e9a4c"/><rect x="417.2" y="213.0" width="2.2" height="4.5" rx=".8" fill="#1e9a4c"/><rect x="421.6" y="213.0" width="2.2" height="4.5" rx=".8" fill="#1e9a4c"/><rect x="404.0" y="221.4" width="2.2" height="4.5" rx=".8" fill="#1e9a4c"/><rect x="408.4" y="221.4" width="2.2" height="4.5" rx=".8" fill="#1e9a4c"/><rect x="412.8" y="221.4" width="2.2" height="4.5" rx=".8" fill="#1e9a4c"/><rect x="417.2" y="221.4" width="2.2" height="4.5" rx=".8" fill="#1e9a4c"/><rect x="421.6" y="221.4" width="2.2" height="4.5" rx=".8" fill="#1e9a4c"/><rect x="404.0" y="229.8" width="2.2" height="4.5" rx=".8" fill="#1e9a4c"/><rect x="408.4" y="229.8" width="2.2" height="4.5" rx=".8" fill="#1e9a4c"/><rect x="412.8" y="229.8" width="2.2" height="4.5" rx=".8" fill="#1e9a4c"/><rect x="417.2" y="229.8" width="2.2" height="4.5" rx=".8" fill="#1e9a4c"/><rect x="421.6" y="229.8" width="2.2" height="4.5" rx=".8" fill="#1e9a4c"/><rect x="404.0" y="238.2" width="2.2" height="4.5" rx=".8" fill="#1e9a4c"/><rect x="408.4" y="238.2" width="2.2" height="4.5" rx=".8" fill="#1e9a4c"/><rect x="412.8" y="238.2" width="2.2" height="4.5" rx=".8" fill="#1e9a4c"/><rect x="417.2" y="238.2" width="2.2" height="4.5" rx=".8" fill="#1e9a4c"/><rect x="421.6" y="238.2" width="2.2" height="4.5" rx=".8" fill="#1e9a4c"/><rect x="404.0" y="246.6" width="2.2" height="4.5" rx=".8" fill="#1e9a4c"/><rect x="408.4" y="246.6" width="2.2" height="4.5" rx=".8" fill="#1e9a4c"/><rect x="412.8" y="246.6" width="2.2" height="4.5" rx=".8" fill="#1e9a4c"/><rect x="417.2" y="246.6" width="2.2" height="4.5" rx=".8" fill="#1e9a4c"/><rect x="421.6" y="246.6" width="2.2" height="4.5" rx=".8" fill="#1e9a4c"/><rect x="404.0" y="255.0" width="2.2" height="4.5" rx=".8" fill="#1e9a4c"/><rect x="408.4" y="255.0" width="2.2" height="4.5" rx=".8" fill="#1e9a4c"/><rect x="412.8" y="255.0" width="2.2" height="4.5" rx=".8" fill="#1e9a4c"/><rect x="417.2" y="255.0" width="2.2" height="4.5" rx=".8" fill="#1e9a4c"/><rect x="421.6" y="255.0" width="2.2" height="4.5" rx=".8" fill="#1e9a4c"/><rect x="404.0" y="263.4" width="2.2" height="4.5" rx=".8" fill="#1e9a4c"/><rect x="408.4" y="263.4" width="2.2" height="4.5" rx=".8" fill="#1e9a4c"/><rect x="412.8" y="263.4" width="2.2" height="4.5" rx=".8" fill="#1e9a4c"/><rect x="417.2" y="263.4" width="2.2" height="4.5" rx=".8" fill="#1e9a4c"/><rect x="421.6" y="263.4" width="2.2" height="4.5" rx=".8" fill="#1e9a4c"/><rect x="420.4" y="238.8" width="6" height="26" fill="#4e9e46"/></g>
<rect x="426" y="238.8" width="7.5" height="26" fill="#b2d6e6" fill-opacity=".8"/>
<g clip-path="url(#c7)"><rect x="433" y="238.8" width="30" height="120" fill="#4e9e46"/><rect x="433" y="270.5" width="11.8" height="90" fill="#1aa14e"/><rect x="435.2" y="280.6" width="3" height="3.2" fill="#1c8e48"/><rect x="435.7" y="287.0" width="1.8" height="9.3" fill="#1c9048"/><rect x="435.7" y="298.0" width="1.8" height="9.3" fill="#1c9048"/><rect x="435.7" y="309.0" width="1.8" height="9.3" fill="#1c9048"/><rect x="435.7" y="320.0" width="1.8" height="9.3" fill="#1c9048"/><rect x="435.7" y="331.0" width="1.8" height="9.3" fill="#1c9048"/><rect x="439.7" y="280.6" width="3" height="3.2" fill="#1c8e48"/><rect x="440.2" y="287.0" width="1.8" height="9.3" fill="#1c9048"/><rect x="440.2" y="298.0" width="1.8" height="9.3" fill="#1c9048"/><rect x="440.2" y="309.0" width="1.8" height="9.3" fill="#1c9048"/><rect x="440.2" y="320.0" width="1.8" height="9.3" fill="#1c9048"/><rect x="440.2" y="331.0" width="1.8" height="9.3" fill="#1c9048"/><rect x="433" y="251.3" width="25.399999999999977" height="2.3" fill="#1c9e5a"/><rect x="433" y="257.4" width="25.399999999999977" height="2.3" fill="#1c9e5a"/><rect x="433" y="263.4" width="25.399999999999977" height="2.3" fill="#1c9e5a"/><rect x="433" y="269.4" width="25.399999999999977" height="2.3" fill="#1c9e5a"/><rect x="444.8" y="275.5" width="13.599999999999966" height="2.3" fill="#1c9e5a"/><rect x="444.8" y="281.6" width="13.599999999999966" height="2.3" fill="#1c9e5a"/><rect x="444.8" y="287.6" width="13.599999999999966" height="2.3" fill="#1c9e5a"/><rect x="444.8" y="293.7" width="13.599999999999966" height="2.3" fill="#1c9e5a"/><rect x="444.8" y="299.7" width="13.599999999999966" height="2.3" fill="#1c9e5a"/><rect x="444.8" y="305.8" width="13.599999999999966" height="2.3" fill="#1c9e5a"/><rect x="444.8" y="311.8" width="13.599999999999966" height="2.3" fill="#1c9e5a"/><rect x="444.8" y="317.9" width="13.599999999999966" height="2.3" fill="#1c9e5a"/><rect x="444.8" y="323.9" width="13.599999999999966" height="2.3" fill="#1c9e5a"/><rect x="444.8" y="329.9" width="13.599999999999966" height="2.3" fill="#1c9e5a"/><rect x="444.8" y="336.0" width="13.599999999999966" height="2.3" fill="#1c9e5a"/><rect x="444.8" y="342.1" width="13.599999999999966" height="2.3" fill="#1c9e5a"/><rect x="444.8" y="348.1" width="13.599999999999966" height="2.3" fill="#1c9e5a"/></g>
<rect x="424.3" y="251.3" width="2.1" height="2.3" fill="#1c9e5a"/><rect x="426.4" y="251.3" width="7.1" height="2.3" fill="#6cb6d4"/><rect x="424.3" y="257.4" width="2.1" height="2.3" fill="#1c9e5a"/><rect x="426.4" y="257.4" width="7.1" height="2.3" fill="#6cb6d4"/><rect x="424.3" y="263.4" width="2.1" height="2.3" fill="#1c9e5a"/><rect x="426.4" y="263.4" width="7.1" height="2.3" fill="#6cb6d4"/><rect x="424.3" y="269.4" width="2.1" height="2.3" fill="#1c9e5a"/><rect x="426.4" y="269.4" width="7.1" height="2.3" fill="#6cb6d4"/>
<g clip-path="url(#c8)"><path d="M468 353V238.5h15l5.2 11.7V353z" fill="#a0a5a6"/><rect x="468.5" y="255.0" width="2.1" height="5.3" rx=".8" fill="#7cacb2"/><rect x="473.1" y="255.0" width="2.1" height="5.3" rx=".8" fill="#7cacb2"/><rect x="477.7" y="255.0" width="2.1" height="5.3" rx=".8" fill="#7cacb2"/><rect x="482.3" y="255.0" width="2.1" height="5.3" rx=".8" fill="#7cacb2"/><rect x="468.5" y="261.8" width="2.1" height="5.3" rx=".8" fill="#7cacb2"/><rect x="473.1" y="261.8" width="2.1" height="5.3" rx=".8" fill="#7cacb2"/><rect x="477.7" y="261.8" width="2.1" height="5.3" rx=".8" fill="#7cacb2"/><rect x="482.3" y="261.8" width="2.1" height="5.3" rx=".8" fill="#7cacb2"/><rect x="468.5" y="268.6" width="2.1" height="5.3" rx=".8" fill="#7cacb2"/><rect x="473.1" y="268.6" width="2.1" height="5.3" rx=".8" fill="#7cacb2"/><rect x="477.7" y="268.6" width="2.1" height="5.3" rx=".8" fill="#7cacb2"/><rect x="482.3" y="268.6" width="2.1" height="5.3" rx=".8" fill="#7cacb2"/><rect x="468.5" y="275.4" width="2.1" height="5.3" rx=".8" fill="#7cacb2"/><rect x="473.1" y="275.4" width="2.1" height="5.3" rx=".8" fill="#7cacb2"/><rect x="477.7" y="275.4" width="2.1" height="5.3" rx=".8" fill="#7cacb2"/><rect x="482.3" y="275.4" width="2.1" height="5.3" rx=".8" fill="#7cacb2"/><rect x="468.5" y="282.2" width="2.1" height="5.3" rx=".8" fill="#7cacb2"/><rect x="473.1" y="282.2" width="2.1" height="5.3" rx=".8" fill="#7cacb2"/><rect x="477.7" y="282.2" width="2.1" height="5.3" rx=".8" fill="#7cacb2"/><rect x="482.3" y="282.2" width="2.1" height="5.3" rx=".8" fill="#7cacb2"/><rect x="468.5" y="299.5" width="2.1" height="5.3" rx=".8" fill="#7cacb2"/><rect x="473.1" y="299.5" width="2.1" height="5.3" rx=".8" fill="#7cacb2"/><rect x="477.7" y="299.5" width="2.1" height="5.3" rx=".8" fill="#7cacb2"/><rect x="482.3" y="299.5" width="2.1" height="5.3" rx=".8" fill="#7cacb2"/><rect x="468.5" y="306.3" width="2.1" height="5.3" rx=".8" fill="#7cacb2"/><rect x="473.1" y="306.3" width="2.1" height="5.3" rx=".8" fill="#7cacb2"/><rect x="477.7" y="306.3" width="2.1" height="5.3" rx=".8" fill="#7cacb2"/><rect x="482.3" y="306.3" width="2.1" height="5.3" rx=".8" fill="#7cacb2"/><rect x="468.5" y="313.1" width="2.1" height="5.3" rx=".8" fill="#7cacb2"/><rect x="473.1" y="313.1" width="2.1" height="5.3" rx=".8" fill="#7cacb2"/><rect x="477.7" y="313.1" width="2.1" height="5.3" rx=".8" fill="#7cacb2"/><rect x="482.3" y="313.1" width="2.1" height="5.3" rx=".8" fill="#7cacb2"/><rect x="468.5" y="319.9" width="2.1" height="5.3" rx=".8" fill="#7cacb2"/><rect x="473.1" y="319.9" width="2.1" height="5.3" rx=".8" fill="#7cacb2"/><rect x="477.7" y="319.9" width="2.1" height="5.3" rx=".8" fill="#7cacb2"/><rect x="482.3" y="319.9" width="2.1" height="5.3" rx=".8" fill="#7cacb2"/><rect x="468.5" y="326.7" width="2.1" height="5.3" rx=".8" fill="#7cacb2"/><rect x="473.1" y="326.7" width="2.1" height="5.3" rx=".8" fill="#7cacb2"/><rect x="477.7" y="326.7" width="2.1" height="5.3" rx=".8" fill="#7cacb2"/><rect x="482.3" y="326.7" width="2.1" height="5.3" rx=".8" fill="#7cacb2"/><rect x="468.4" y="343" width="17" height="10" fill="#98a0a6"/><rect x="469.5" y="344" width="3.4" height="9" rx="1.4" fill="#7090b4"/><rect x="474.7" y="344" width="3.4" height="9" rx="1.4" fill="#7090b4"/><rect x="479.9" y="344" width="3.4" height="9" rx="1.4" fill="#7090b4"/></g>
<g clip-path="url(#c10)"><path d="M584.2 58H585.8V100H586.4V117H588V140H588.7V151H593V183H597V231.5H601V284H605.8V321H611V353H556.3V313.8H563V271H570V219H574.8V161.6H579V140H582.7V117H583.6V100H584.2Z" fill="#cdea72"/></g>
<g clip-path="url(#c11)"><g clip-path="url(#cb)"><rect x="570" y="100" width="40" height="260" fill="#86b070"/><rect x="575.5" y="171" width="1.6" height="182" fill="#7aa868"/><rect x="579.1" y="171" width="1.6" height="182" fill="#7aa868"/><rect x="582.7" y="171" width="1.6" height="182" fill="#7aa868"/><rect x="586.3" y="171" width="1.6" height="182" fill="#7aa868"/><rect x="589.9" y="171" width="1.6" height="182" fill="#7aa868"/><rect x="593.5" y="171" width="1.6" height="182" fill="#7aa868"/><rect x="597.1" y="171" width="1.6" height="182" fill="#7aa868"/><rect x="583" y="124" width="4.6" height="16" fill="#98c488"/></g></g>
<g clip-path="url(#cb)"><rect x="556" y="161.6" width="56" height="9.4" fill="#d8f0c0" fill-opacity=".42"/><rect x="556" y="204" width="56" height="6.7" fill="#d8f0c0" fill-opacity=".42"/><rect x="556" y="250" width="56" height="7" fill="#d8f0c0" fill-opacity=".42"/><rect x="556" y="290" width="56" height="7.7" fill="#d8f0c0" fill-opacity=".42"/><rect x="556" y="330.8" width="56" height="6.4" fill="#d8f0c0" fill-opacity=".42"/></g>
</g>
<g id="labels">
<text transform="translate(203.10 167.73) scale(0.64 0.61)" text-anchor="middle" class="vl" fill="#fff" stroke="#fff" stroke-width=".3">618,100</text>
<line x1="203.1" x2="203.1" y1="353" y2="357" stroke="#fff" stroke-opacity=".5"/><text x="203.1" y="365.6" text-anchor="middle" class="xl">2014</text>
<text transform="translate(238.00 179.83) scale(0.64 0.61)" text-anchor="middle" class="vl" fill="#fff" stroke="#fff" stroke-width=".3">579,500</text>
<line x1="238.0" x2="238.0" y1="353" y2="357" stroke="#fff" stroke-opacity=".5"/><text x="238.0" y="365.6" text-anchor="middle" class="xl">2015</text>
<text transform="translate(272.90 208.14) scale(0.64 0.61)" text-anchor="middle" class="vl" fill="#fff" stroke="#fff" stroke-width=".3">489,193</text>
<line x1="272.9" x2="272.9" y1="353" y2="357" stroke="#fff" stroke-opacity=".5"/><text x="272.9" y="365.6" text-anchor="middle" class="xl">2016</text>
<text transform="translate(307.80 192.96) scale(0.64 0.61)" text-anchor="middle" class="vl" fill="#2a3030" stroke="#2a3030" stroke-width=".3">537,608</text>
<line x1="307.8" x2="307.8" y1="353" y2="357" stroke="#fff" stroke-opacity=".5"/><text x="307.8" y="365.6" text-anchor="middle" class="xl">2017</text>
<text transform="translate(342.70 189.05) scale(0.64 0.61)" text-anchor="middle" class="vl" fill="#2a3030" stroke="#2a3030" stroke-width=".3">550,086</text>
<line x1="342.7" x2="342.7" y1="353" y2="357" stroke="#fff" stroke-opacity=".5"/><text x="342.7" y="365.6" text-anchor="middle" class="xl">2018</text>
<text transform="translate(377.60 211.02) scale(0.64 0.61)" text-anchor="middle" class="vl" fill="#fff" stroke="#fff" stroke-width=".3">480,000</text>
<line x1="377.6" x2="377.6" y1="353" y2="357" stroke="#fff" stroke-opacity=".5"/><text x="377.6" y="365.6" text-anchor="middle" class="xl">2019</text>
<text transform="translate(412.50 212.89) scale(0.64 0.61)" text-anchor="middle" class="vl" fill="#fff" stroke="#fff" stroke-width=".3">474,025</text>
<line x1="412.5" x2="412.5" y1="353" y2="357" stroke="#fff" stroke-opacity=".5"/><text x="412.5" y="365.6" text-anchor="middle" class="xl">2020</text>
<text transform="translate(447.40 210.23) scale(0.64 0.61)" text-anchor="middle" class="vl" fill="#fff" stroke="#fff" stroke-width=".3">482,520</text>
<line x1="447.4" x2="447.4" y1="353" y2="357" stroke="#fff" stroke-opacity=".5"/><text x="447.4" y="365.6" text-anchor="middle" class="xl">2021</text>
<text transform="translate(482.30 192.21) scale(0.64 0.61)" text-anchor="middle" class="vl" fill="#fff" stroke="#fff" stroke-width=".3">540,000</text>
<line x1="482.3" x2="482.3" y1="353" y2="357" stroke="#fff" stroke-opacity=".5"/><text x="482.3" y="365.6" text-anchor="middle" class="xl">2022</text>
<text transform="translate(517.20 182.80) scale(0.64 0.61)" text-anchor="middle" class="vl" fill="#fff" stroke="#fff" stroke-width=".3">570,000</text>
<line x1="517.2" x2="517.2" y1="353" y2="357" stroke="#fff" stroke-opacity=".5"/><text x="517.2" y="365.6" text-anchor="middle" class="xl">2023</text>
<text transform="translate(552.10 150.50) scale(0.64 0.61)" text-anchor="middle" class="vl" fill="#111" stroke="#111" stroke-width=".3">673,057</text>
<line x1="552.1" x2="552.1" y1="353" y2="357" stroke="#fff" stroke-opacity=".5"/><text x="552.1" y="365.6" text-anchor="middle" class="xl">2024</text>
<text transform="translate(587.00 133.28) scale(0.64 0.61)" text-anchor="middle" class="vl" fill="#fff" stroke="#fff" stroke-width=".3">727,990</text>
<line x1="587.0" x2="587.0" y1="353" y2="357" stroke="#fff" stroke-opacity=".5"/><text x="587.0" y="365.6" text-anchor="middle" class="xl">2025</text>
</g>
<text x="184.3" y="405" class="src" textLength="153" lengthAdjust="spacingAndGlyphs">Source: Dubai Land Department, Industry Reports</text>
</svg>
</body></html>
